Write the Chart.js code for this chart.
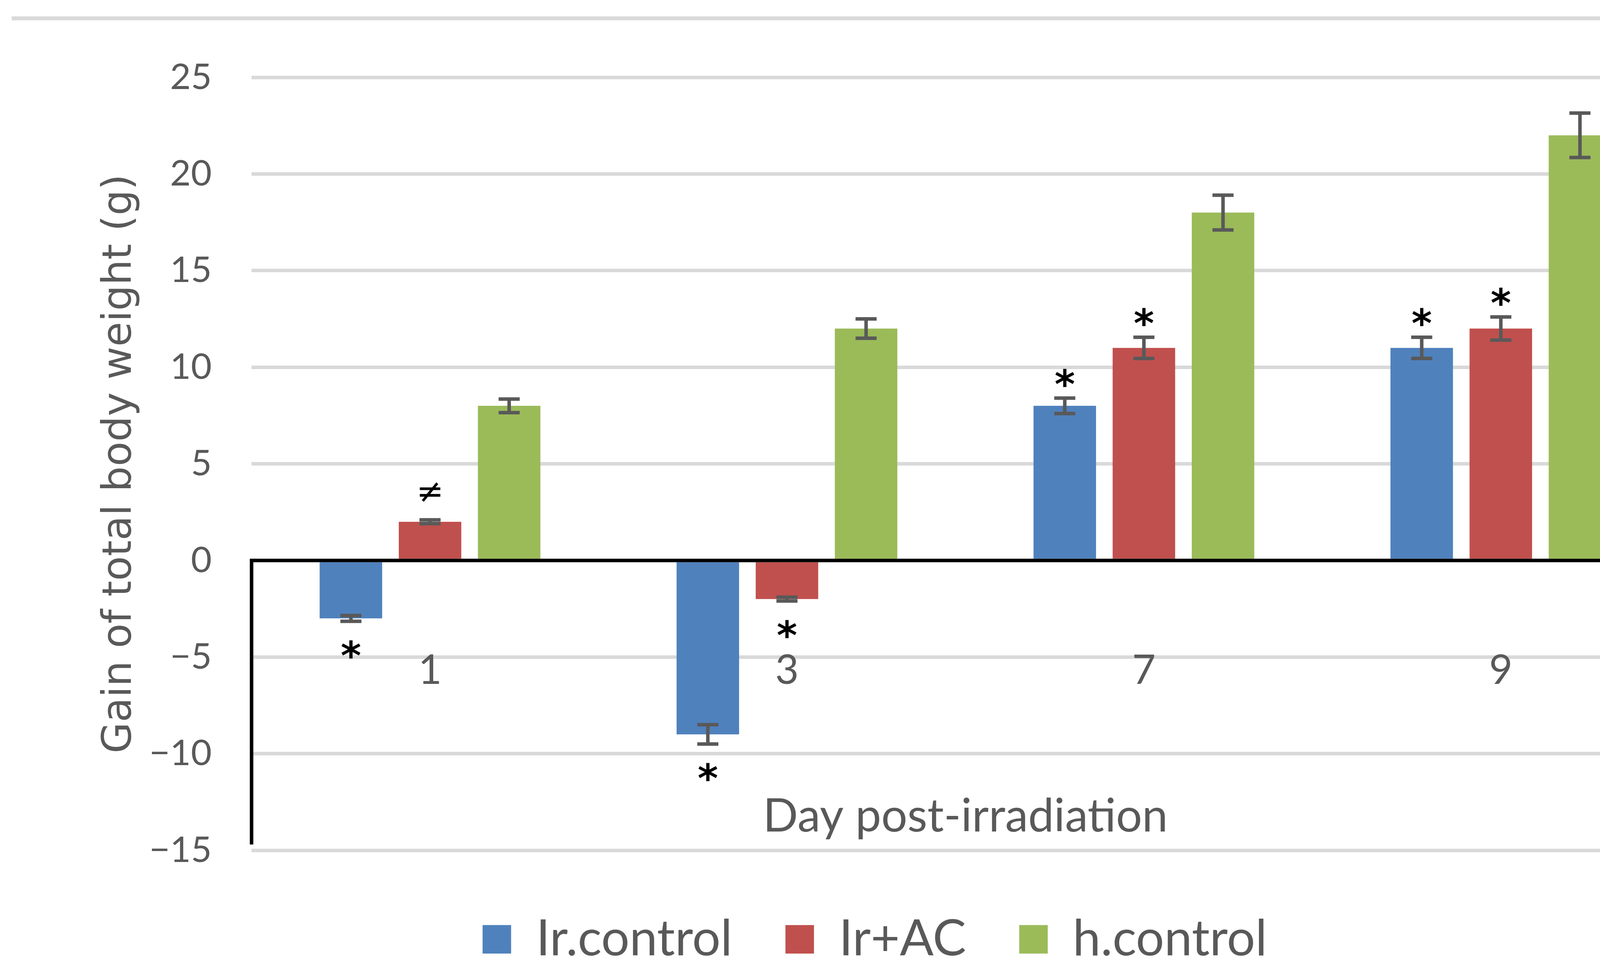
<!DOCTYPE html>
<html>
<head>
<meta charset="utf-8">
<script src="https://cdn.jsdelivr.net/npm/chart.js@4.4.1/dist/chart.umd.min.js"></script>
<style>
html, body { margin: 0; padding: 0; background: #fff; }
canvas { display: block; }
</style>
</head>
<body>
<canvas id="myChart" width="4426" height="2481"></canvas>
<script>
const days = ['1', '3', '7', '9'];

const irControl = [-3, -9, 8, 11];
const irAC = [2, -2, 11, 12];
const hControl = [8, 12, 18, 22];

const irControlErr = [0.15, 0.5, 0.4, 0.55];
const irACErr = [0.1, 0.1, 0.55, 0.6];
const hControlErr = [0.35, 0.5, 0.9, 1.15];

const irControlMarks = ['*', '*', '*', '*'];
const irACMarks = ['≠', '*', '*', '*'];
const hControlMarks = ['', '', '', ''];

const yMin = -15;
const yMax = 25;
const yStep = 5;

const textGrey = '#595959';

// grey rule on top, error bars, significance marks and the black box under zero
const decorations = {
    id: 'decorations',
    beforeDraw(chart) {
        const ctx = chart.ctx;
        ctx.save();
        ctx.fillStyle = '#ffffff';
        ctx.fillRect(0, 0, chart.width, chart.height);
        ctx.strokeStyle = '#d9d9d9';
        ctx.lineWidth = 10;
        ctx.beginPath();
        ctx.moveTo(30, 47);
        ctx.lineTo(4390, 47);
        ctx.stroke();
        ctx.restore();
    },
    afterDatasetsDraw(chart) {
        const ctx = chart.ctx;
        const yScale = chart.scales.y;
        const area = chart.chartArea;
        ctx.save();

        chart.data.datasets.forEach((ds, i) => {
            const meta = chart.getDatasetMeta(i);
            meta.data.forEach((bar, j) => {
                const v = ds.data[j];
                const e = ds.errors[j];
                const top = yScale.getPixelForValue(v + e);
                const bottom = yScale.getPixelForValue(v - e);
                const x = bar.x;

                ctx.strokeStyle = textGrey;
                ctx.lineWidth = 9;
                ctx.beginPath();
                ctx.moveTo(x, top);
                ctx.lineTo(x, bottom);
                ctx.moveTo(x - 27, top);
                ctx.lineTo(x + 27, top);
                ctx.moveTo(x - 27, bottom);
                ctx.lineTo(x + 27, bottom);
                ctx.stroke();

                const mark = ds.marks[j];
                if (!mark) return;
                ctx.fillStyle = '#000000';
                ctx.font = mark === '*' ? 'bold 100px "DejaVu Sans"' : '84px "DejaVu Sans"';
                ctx.textAlign = 'center';
                ctx.textBaseline = 'alphabetic';
                const m = ctx.measureText(mark);
                const asc = m.actualBoundingBoxAscent;
                const desc = m.actualBoundingBoxDescent;
                if (v >= 0) {
                    const gap = mark === '*' ? 28 : 46;
                    ctx.fillText(mark, x, top - gap - desc);
                } else {
                    ctx.fillText(mark, x, bottom + 48 + asc);
                }
            });
        });

        const y0 = yScale.getPixelForValue(0);
        const yEnd = yScale.getPixelForValue(-14.7);
        ctx.strokeStyle = '#000000';
        ctx.lineWidth = 9;
        ctx.lineJoin = 'miter';
        ctx.beginPath();
        ctx.moveTo(area.left, yEnd);
        ctx.lineTo(area.left, y0);
        ctx.lineTo(area.right, y0);
        ctx.lineTo(area.right, yEnd);
        ctx.stroke();
        ctx.restore();
    }
};

const ctx = document.getElementById('myChart').getContext('2d');
const myChart = new Chart(ctx, {
    type: 'bar',
    data: {
        labels: days,
        datasets: [
            {
                label: 'Ir.control',
                data: irControl,
                errors: irControlErr,
                marks: irControlMarks,
                backgroundColor: '#4f81bd'
            },
            {
                label: 'Ir+AC',
                data: irAC,
                errors: irACErr,
                marks: irACMarks,
                backgroundColor: '#c0504d'
            },
            {
                label: 'h.control',
                data: hControl,
                errors: hControlErr,
                marks: hControlMarks,
                backgroundColor: '#9bbb59'
            }
        ]
    },
    options: {
        responsive: false,
        animation: false,
        devicePixelRatio: 1,
        categoryPercentage: 0.665,
        barPercentage: 0.79,
        layout: {
            padding: { top: 198, right: 127, bottom: 2, left: 180 }
        },
        plugins: {
            tooltip: { enabled: false },
            legend: {
                position: 'bottom',
                title: {
                    display: true,
                    text: ' ',
                    padding: 8,
                    font: { size: 10 }
                },
                labels: {
                    boxWidth: 73,
                    boxHeight: 73,
                    padding: 136,
                    color: textGrey,
                    font: { family: 'Lato', size: 128 }
                }
            }
        },
        scales: {
            x: {
                position: { y: 0 },
                grid: { display: false, drawTicks: false },
                border: { display: false },
                ticks: {
                    color: textGrey,
                    padding: 220,
                    font: { family: 'Lato', size: 104 }
                },
                title: {
                    display: true,
                    text: 'Day post-irradiation',
                    color: textGrey,
                    padding: { top: 20, bottom: 0 },
                    font: { family: 'Lato', size: 118 }
                }
            },
            y: {
                min: yMin,
                max: yMax,
                afterFit(scale) {
                    scale.width = 464;
                },
                grid: {
                    color: c => c.tick.value === 0 ? 'rgba(0,0,0,0)' : '#d9d9d9',
                    lineWidth: 9,
                    drawTicks: false
                },
                border: { display: false },
                ticks: {
                    stepSize: yStep,
                    padding: 102,
                    color: textGrey,
                    font: { family: 'Lato', size: 92 },
                    callback: value => value < 0 ? '\u2212' + Math.abs(value) : String(value)
                },
                title: {
                    display: true,
                    text: 'Gain of total body weight (g)',
                    color: textGrey,
                    padding: { top: 66, bottom: 0 },
                    font: { family: 'DejaVu Sans', size: 103 }
                }
            }
        }
    },
    plugins: [decorations]
});
</script>
</body>
</html>
